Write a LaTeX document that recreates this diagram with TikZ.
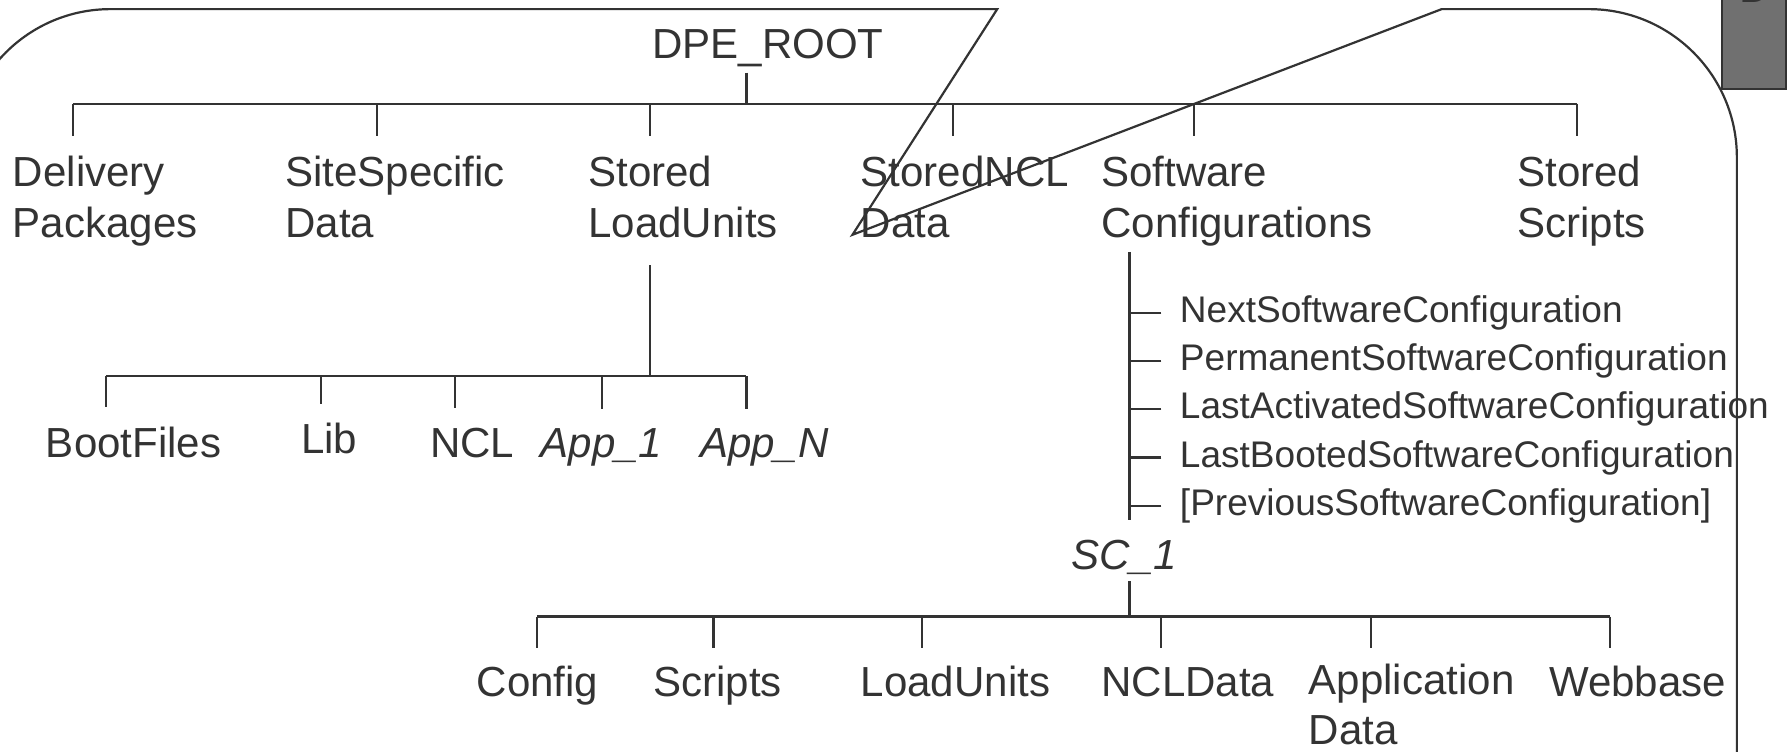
\documentclass[tikz,border=0pt]{standalone}
\usepackage{fontspec}
\setmainfont{Liberation Sans}
\usepackage{xcolor}
\usepackage{tikz}
\usetikzlibrary{calc}
\definecolor{ink}{HTML}{333333}
\definecolor{tabgray}{HTML}{707070}

\begin{document}
\begin{tikzpicture}[
    x=0.02cm, y=-0.02cm,
    lbl/.style={anchor=base west, inner sep=0pt, text=ink, align=left, font=\fontsize{21}{25}\selectfont},
    sub/.style={lbl, font=\fontsize{18.5}{22}\selectfont},
    link/.style={draw=ink, line width=1.1pt},
    frame/.style={draw=ink, line width=1.1pt}
]
    \useasboundingbox (0,0) rectangle (1568,659);

    % callout frame
    \draw[frame] (-33,700) -- (-33,138) arc[start angle=180, end angle=270, radius=130]
        -- (875,8) -- (748,206) -- (1265,8) -- (1394,8)
        arc[start angle=270, end angle=360, radius=130] -- (1524,700);
    \draw[frame, fill=tabgray] (1511,-10) rectangle (1567,78);
    \node[lbl] (tab) at (1526,2.5) {D};

    % root and first level
    \node[lbl] (root) at (572,51) {DPE\_ROOT};
    \coordinate (j0) at (655,91);
    \draw[link, shorten <=0.1cm] (j0 |- root.south) -- (j0);

    \node[lbl] (deliv) at (11,208) {Delivery\\Packages};
    \node[lbl] (site) at (250,208) {SiteSpecific\\Data};
    \node[lbl] (slu) at (516,208) {Stored\\LoadUnits};
    \node[lbl] (sncl) at (755,208) {StoredNCL\\Data};
    \node[lbl] (swc) at (966,208) {Software\\Configurations};
    \node[lbl] (sscr) at (1331,208) {Stored\\Scripts};

    \draw[link] (64,91) -- (1384,91);
    \foreach \x/\n in {64/deliv, 331/site, 570/slu, 836/sncl, 1048/swc, 1384/sscr}
        \draw[link, shorten >=0.35cm] (\x,91) -- (\x,91 |- \n.north);

    % stored load units
    \coordinate (j1) at (570,330);
    \draw[link, shorten <=0.48cm] (j1 |- slu.south) -- (j1);
    \draw[link] (93,330) -- (655,330);

    \node[lbl] (boot) at (40,401) {BootFiles};
    \node[lbl] (lib) at (264,398) {Lib};
    \node[lbl] (ncl) at (377,401) {NCL};
    \node[lbl] (app1) at (474,401) {\itshape App\_1};
    \node[lbl] (appn) at (614,401) {\itshape App\_N};
    \foreach \x/\n in {93/boot, 282/lib, 399/ncl, 528/app1, 655/appn}
        \draw[link, shorten >=0.33cm] (\x,330) -- (\x,330 |- \n.north);

    % software configurations
    \coordinate (j2) at (991,541);
    \node[lbl] (sc1) at (940,500) {\itshape SC\_1};
    \draw[link, shorten <=0.1cm, shorten >=0.35cm] (j2 |- swc.south) -- (j2 |- sc1.north);

    \foreach \t [count=\i from 0] in {NextSoftwareConfiguration, PermanentSoftwareConfiguration,
        LastActivatedSoftwareConfiguration, LastBootedSoftwareConfiguration, {[PreviousSoftwareConfiguration]}} {
        \node[sub] (cfg\i) at (1035,283+42.3*\i) {\t};
        \draw[link, shorten <=0.32cm] (cfg\i.west) -- (cfg\i.west -| j2);
    }

    \draw[link, shorten <=0.1cm] (j2 |- sc1.south) -- (j2);
    \draw[link] (471,541) -- (1413,541);

    \node[lbl] (conf) at (418,611) {Config};
    \node[lbl] (scr) at (573,611) {Scripts};
    \node[lbl] (lu) at (755,611) {LoadUnits};
    \node[lbl] (ncld) at (966,611) {NCLData};
    \node[lbl] (appd) at (1148,653) {Application\\Data};
    \node[lbl] (web) at (1359,611) {Webbase};
    \foreach \x/\n in {471/conf, 626/scr, 809/lu, 1019/ncld, 1203/appd, 1413/web}
        \draw[link] (\x,541) -- (\x,569);
\end{tikzpicture}
\end{document}
